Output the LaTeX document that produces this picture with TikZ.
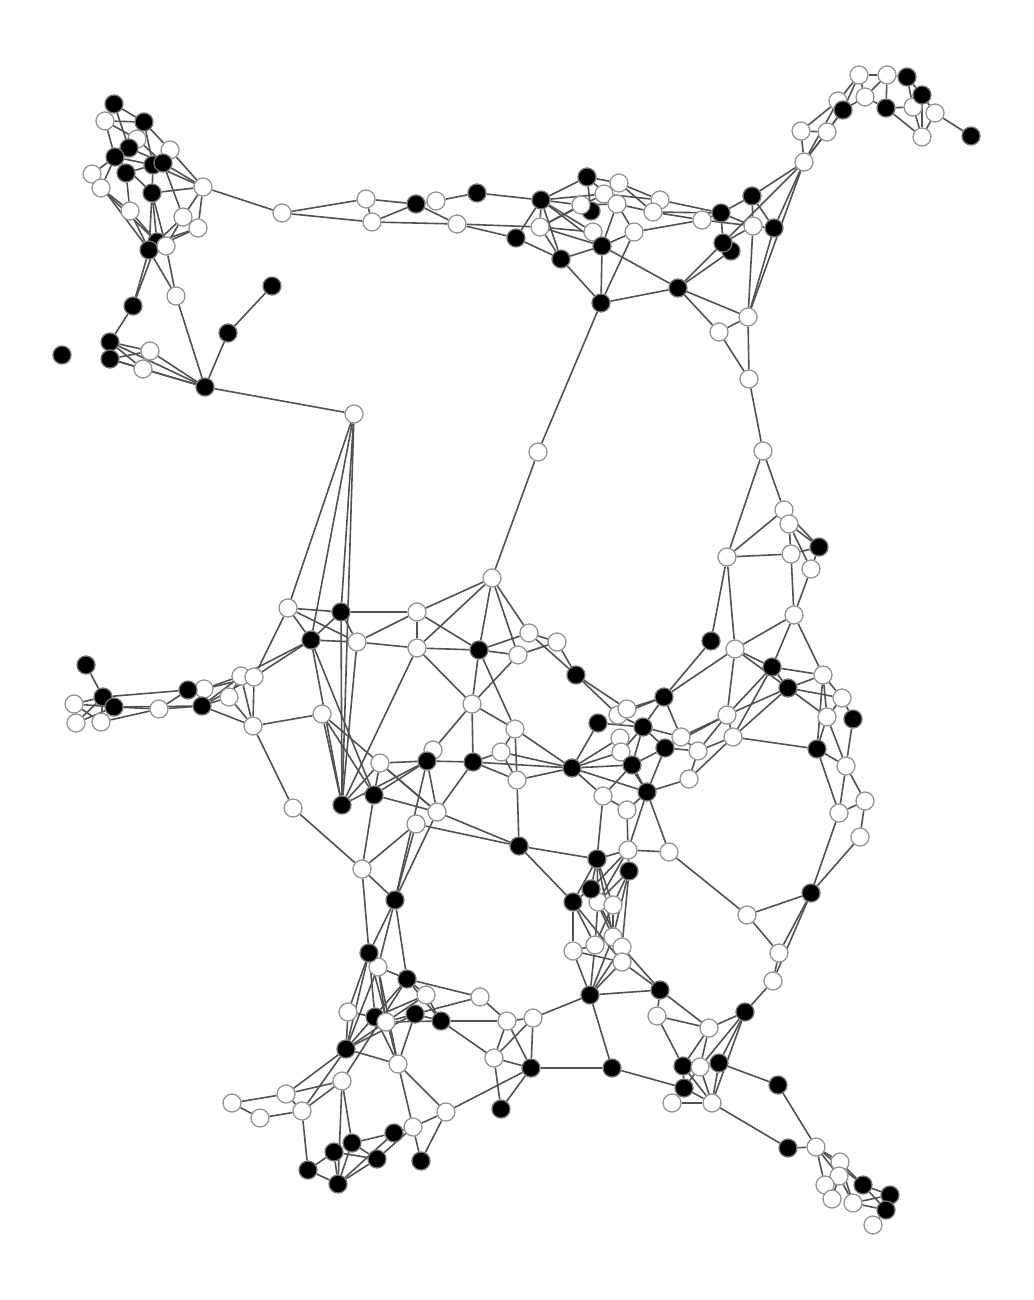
\documentclass[tikz,border=0pt]{standalone}
\pgfdeclarelayer{bg}
\pgfsetlayers{bg,main}
\begin{document}
\begin{tikzpicture}[x=1pt,y=-1pt,
  wn/.style={circle,fill=white,draw=black!42,line width=1.3pt,minimum size=18pt,inner sep=0pt},
  bn/.style={circle,fill=black,draw=black!55,line width=1.3pt,minimum size=18pt,inner sep=0pt},
  ed/.style={draw=black!68,line width=1.6pt}]
\useasboundingbox (0,0) rectangle (1033,1300);
% white nodes
\foreach \x/\y in {105/121, 137/139, 170/150, 92/174, 101/188, 203/187, 130/211, 183/217, 198/228, 176/296, 150/351, 143/369,
282/213, 366/199, 372/222, 436/201, 457/224, 540/227, 604/194, 619/183, 617/204, 593/232, 634/232, 660/200, 653/212, 702/220, 753/226, 748/317, 719/332, 749/379, 763/451,
859/75, 887/75, 838/101, 865/97, 913/107, 935/113, 922/137, 801/131, 827/132, 804/162,
354/414, 538/452, 492/578,
784/510, 789/524, 727/557, 791/554, 811/569, 794/615, 735/649, 823/675, 842/698, 827/717, 846/766, 865/801, 839/813, 860/837, 727/715, 733/737, 747/915, 779/953, 773/981,
288/608, 417/612, 357/642, 417/648, 529/633, 518/655, 557/642, 322/714, 472/704, 515/729, 433/750, 380/763, 501/752, 517/780, 293/808, 437/812, 416/824, 362/869,
620/738, 621/752, 681/737, 698/751, 689/779, 603/796, 627/810, 628/850, 669/852,
598/902, 613/905, 613/937, 595/945, 622/947, 573/951, 622/962,
74/704, 76/723, 101/722, 159/709, 204/689, 229/697, 241/676, 254/677, 253/726,
378/967, 426/995, 480/997, 348/1012, 507/1021, 533/1018, 398/1064, 494/1058, 342/1081, 286/1094, 232/1103, 260/1118, 302/1111, 446/1112, 413/1127,
657/1016, 709/1028, 672/1103, 712/1103, 816/1147, 840/1162, 839/1176, 825/1185, 832/1199, 853/1203, 873/1225}
  \node[wn] (n\x x\y) at (\x,\y) {};
% black nodes
\foreach \x/\y in {114/104, 144/122, 129/148, 115/157, 153/165, 163/163, 126/173, 152/193, 157/242, 149/250, 133/306, 110/342, 110/359, 62/355, 205/387, 228/333, 272/286,
416/204, 477/193, 541/200, 587/177, 591/211, 516/238, 561/259, 602/246, 601/303, 678/288, 721/213, 752/196, 774/228, 731/251, 723/243,
907/77, 843/110, 886/108, 922/95, 971/136,
819/547, 711/641, 772/667, 788/688, 853/719, 817/749, 811/893,
341/612, 311/640, 479/650, 576/675, 427/761, 473/762, 572/768, 342/805, 374/795, 519/846, 395/900,
664/697, 598/723, 643/727, 665/748, 632/765, 647/792, 597/859, 629/871, 591/889, 573/902, 590/995, 660/990,
86/665, 103/697, 114/707, 188/690, 202/706,
369/953, 407/979, 375/1017, 415/1014, 441/1021, 346/1049, 531/1068, 501/1109, 394/1133, 352/1143, 334/1152, 377/1159, 421/1161, 308/1170, 338/1184, 612/1068,
745/1012, 683/1066, 719/1063, 684/1088, 778/1085, 788/1148, 863/1185, 890/1195, 886/1210}
  \node[bn] (n\x x\y) at (\x,\y) {};
% whites lying on top of blacks
\foreach \x/\y in {166/246, 581/205, 618/715, 627/709, 386/1022, 700/1067}
  \node[wn] (n\x x\y) at (\x,\y) {};
\begin{pgfonlayer}{bg}
\foreach \a/\b/\c/\d in {
114/104/105/121, 114/104/144/122, 114/104/129/148, 105/121/144/122, 105/121/115/157, 105/121/137/139,
144/122/170/150, 144/122/129/148, 144/122/153/165, 137/139/163/163, 129/148/115/157, 129/148/163/163,
115/157/92/174, 115/157/101/188, 115/157/153/165, 115/157/152/193, 126/173/153/165, 126/173/130/211,
92/174/101/188, 101/188/130/211, 101/188/157/242, 92/174/149/250, 130/211/157/242, 130/211/149/250,
152/193/203/187, 152/193/157/242, 152/193/149/250, 152/193/166/246, 152/193/153/165, 170/150/203/187,
163/163/203/187, 153/165/203/187, 203/187/198/228, 203/187/183/217, 163/163/183/217, 183/217/157/242,
198/228/157/242, 198/228/149/250, 183/217/166/246, 170/150/153/165, 203/187/282/213,
176/296/205/387, 176/296/149/250, 176/296/166/246, 133/306/149/250, 133/306/157/242, 133/306/110/342,
110/342/150/351, 110/342/143/369, 110/342/205/387, 110/359/150/351, 110/359/143/369, 110/359/205/387,
150/351/205/387, 143/369/205/387, 205/387/228/333, 228/333/272/286, 205/387/354/414,
282/213/366/199, 282/213/372/222, 366/199/416/204, 366/199/372/222, 372/222/416/204, 372/222/457/224,
416/204/436/201, 416/204/457/224, 436/201/477/193, 477/193/541/200, 457/224/540/227, 457/224/516/238,
541/200/587/177, 541/200/581/205, 541/200/604/194, 541/200/593/232, 541/200/602/246, 541/200/540/227,
541/200/516/238, 541/200/561/259, 587/177/619/183, 587/177/591/211, 587/177/617/204,
540/227/581/205, 540/227/604/194, 540/227/593/232, 540/227/561/259, 540/227/602/246, 516/238/561/259,
561/259/602/246, 561/259/601/303, 602/246/617/204, 602/246/634/232, 602/246/601/303, 602/246/678/288,
602/246/593/232, 619/183/660/200, 619/183/653/212, 617/204/653/212, 617/204/634/232, 604/194/660/200,
581/205/617/204, 653/212/721/213, 653/212/702/220, 660/200/721/213, 634/232/702/220, 634/232/601/303,
601/303/678/288, 678/288/723/243, 678/288/731/251, 702/220/721/213, 702/220/753/226, 721/213/752/196,
721/213/753/226, 721/213/723/243, 752/196/753/226, 752/196/774/228, 752/196/804/162, 753/226/774/228,
753/226/723/243, 774/228/804/162, 774/228/748/317, 723/243/804/162, 753/226/748/317, 678/288/748/317,
678/288/719/332, 748/317/719/332, 748/317/804/162, 748/317/749/379, 719/332/749/379, 749/379/763/451,
601/303/538/452, 538/452/492/578,
859/75/887/75, 859/75/865/97, 859/75/838/101, 859/75/843/110, 887/75/907/77, 887/75/886/108,
887/75/865/97, 907/77/922/95, 907/77/913/107, 865/97/886/108, 865/97/843/110, 886/108/913/107,
886/108/922/137, 922/95/913/107, 922/95/935/113, 922/95/922/137, 913/107/922/137, 935/113/922/137,
935/113/971/136, 838/101/843/110, 838/101/801/131, 843/110/827/132, 843/110/804/162, 838/101/804/162,
801/131/827/132, 801/131/804/162, 827/132/804/162,
763/451/727/557, 763/451/784/510, 784/510/727/557, 784/510/819/547, 789/524/819/547, 789/524/791/554,
789/524/811/569, 727/557/791/554, 727/557/711/641, 727/557/735/649, 791/554/819/547, 791/554/794/615,
819/547/811/569, 811/569/794/615, 794/615/735/649, 794/615/772/667, 794/615/823/675, 711/641/664/697,
735/649/772/667, 735/649/788/688, 735/649/664/697, 735/649/727/715, 772/667/823/675, 772/667/788/688,
772/667/727/715, 772/667/733/737, 788/688/823/675, 788/688/842/698, 788/688/827/717, 788/688/727/715,
788/688/733/737, 823/675/842/698, 823/675/827/717, 823/675/817/749, 842/698/853/719, 842/698/827/717,
853/719/846/766, 827/717/817/749, 827/717/846/766, 817/749/733/737, 817/749/846/766, 817/749/839/813,
846/766/865/801, 846/766/839/813, 865/801/839/813, 865/801/860/837, 839/813/811/893, 860/837/811/893,
354/414/288/608, 354/414/311/640, 354/414/341/612, 354/414/342/805, 288/608/341/612, 288/608/357/642,
288/608/311/640, 288/608/254/677, 311/640/241/676, 311/640/254/677,
341/612/417/612, 341/612/357/642, 341/612/342/805, 341/612/311/640, 311/640/357/642, 311/640/342/805,
311/640/374/795, 357/642/417/612, 357/642/417/648, 357/642/342/805, 417/612/417/648, 417/612/492/578,
417/612/479/650, 417/648/492/578, 417/648/479/650, 417/648/472/704, 417/648/342/805, 492/578/479/650,
492/578/529/633, 492/578/518/655, 479/650/529/633, 479/650/518/655, 479/650/472/704, 479/650/515/729,
529/633/557/642, 529/633/576/675, 518/655/557/642, 518/655/472/704, 557/642/576/675, 472/704/515/729,
472/704/473/762, 472/704/433/750, 515/729/501/752, 515/729/572/768, 515/729/517/780, 322/714/253/726,
322/714/342/805, 322/714/374/795, 322/714/437/812, 380/763/427/761, 380/763/342/805, 380/763/374/795,
380/763/437/812, 427/761/473/762, 427/761/342/805, 427/761/374/795, 427/761/437/812, 427/761/395/900,
427/761/433/750, 473/762/437/812, 473/762/517/780, 473/762/501/752, 473/762/572/768, 501/752/517/780,
501/752/572/768, 517/780/572/768, 517/780/519/846, 374/795/437/812, 374/795/362/869, 416/824/519/846,
437/812/519/846, 416/824/362/869, 416/824/395/900, 437/812/395/900, 293/808/362/869, 293/808/253/726,
362/869/395/900, 362/869/369/953, 395/900/369/953, 395/900/378/967, 395/900/407/979, 519/846/597/859,
519/846/573/902,
576/675/618/715, 576/675/627/709, 664/697/618/715, 664/697/627/709, 664/697/643/727, 664/697/681/737,
727/715/681/737, 727/715/665/748, 727/715/698/751, 727/715/733/737, 733/737/698/751, 733/737/689/779,
598/723/572/768, 598/723/643/727, 643/727/618/715, 643/727/665/748, 643/727/621/752, 643/727/632/765,
681/737/665/748, 681/737/698/751, 681/737/643/727, 665/748/632/765, 665/748/647/792, 665/748/698/751,
689/779/647/792, 698/751/689/779, 572/768/620/738, 572/768/621/752, 572/768/632/765, 572/768/603/796,
572/768/647/792, 632/765/647/792, 632/765/603/796, 632/765/620/738, 647/792/627/810, 647/792/628/850,
647/792/669/852, 647/792/621/752, 603/796/597/859, 603/796/627/810, 627/810/628/850, 628/850/669/852,
597/859/628/850,
597/859/591/889, 597/859/573/902, 597/859/598/902, 597/859/613/905, 597/859/613/937, 628/850/629/871,
628/850/598/902, 628/850/591/889, 669/852/747/915, 629/871/613/905, 629/871/622/947, 629/871/613/937,
629/871/598/902, 591/889/613/937, 591/889/573/902, 573/902/573/951, 573/902/622/962, 573/902/595/945,
598/902/622/947, 598/902/595/945, 613/905/613/937, 613/905/595/945, 613/937/595/945, 613/937/622/947,
613/937/590/995, 573/951/622/962, 573/951/590/995, 573/951/595/945, 595/945/590/995, 622/962/590/995,
622/947/590/995, 622/962/660/990, 622/947/660/990, 590/995/660/990, 590/995/533/1018, 590/995/612/1068,
660/990/709/1028, 660/990/657/1016,
747/915/811/893, 747/915/779/953, 811/893/779/953, 811/893/773/981, 779/953/773/981, 773/981/745/1012,
657/1016/709/1028, 657/1016/683/1066, 709/1028/745/1012, 709/1028/683/1066, 709/1028/700/1067,
745/1012/719/1063, 745/1012/700/1067, 745/1012/712/1103, 683/1066/700/1067, 683/1066/684/1088,
683/1066/712/1103, 700/1067/684/1088, 700/1067/712/1103, 719/1063/712/1103, 719/1063/700/1067,
719/1063/778/1085, 684/1088/672/1103, 684/1088/712/1103, 672/1103/712/1103, 612/1068/684/1088,
612/1068/531/1068, 712/1103/788/1148, 778/1085/816/1147, 788/1148/816/1147, 816/1147/840/1162,
816/1147/825/1185, 816/1147/863/1185, 816/1147/839/1176, 840/1162/863/1185, 839/1176/853/1203,
825/1185/832/1199, 863/1185/890/1195, 863/1185/886/1210, 853/1203/886/1210, 853/1203/890/1195,
886/1210/873/1225, 839/1176/832/1199, 840/1162/853/1203,
369/953/378/967, 369/953/348/1012, 369/953/346/1049, 369/953/375/1017, 369/953/398/1064,
378/967/407/979, 378/967/386/1022, 378/967/398/1064, 378/967/346/1049, 407/979/480/997,
407/979/426/995, 407/979/441/1021, 407/979/346/1049, 407/979/342/1081, 426/995/441/1021,
426/995/375/1017, 426/995/386/1022, 480/997/507/1021, 480/997/415/1014, 348/1012/375/1017,
348/1012/346/1049, 375/1017/386/1022, 375/1017/398/1064, 386/1022/415/1014, 386/1022/441/1021,
386/1022/346/1049, 415/1014/441/1021, 415/1014/398/1064, 415/1014/346/1049, 441/1021/507/1021,
441/1021/494/1058, 507/1021/533/1018, 507/1021/494/1058, 507/1021/531/1068, 533/1018/494/1058,
533/1018/531/1068, 494/1058/531/1068, 494/1058/501/1109, 531/1068/501/1109, 531/1068/446/1112,
346/1049/398/1064, 346/1049/286/1094, 346/1049/302/1111, 342/1081/286/1094, 342/1081/302/1111,
342/1081/352/1143, 342/1081/338/1184, 398/1064/446/1112, 398/1064/413/1127, 232/1103/286/1094,
232/1103/260/1118, 286/1094/302/1111, 260/1118/302/1111, 302/1111/308/1170, 446/1112/413/1127,
446/1112/421/1161, 413/1127/394/1133, 413/1127/421/1161, 413/1127/377/1159, 394/1133/352/1143,
394/1133/338/1184, 352/1143/377/1159, 352/1143/338/1184, 334/1152/308/1170, 334/1152/377/1159,
334/1152/338/1184, 308/1170/338/1184, 338/1184/377/1159,
86/665/103/697, 103/697/74/704, 103/697/76/723, 103/697/101/722, 103/697/188/690, 103/697/114/707,
114/707/74/704, 114/707/76/723, 114/707/159/709, 114/707/202/706, 74/704/101/722, 101/722/159/709,
159/709/202/706, 159/709/188/690, 188/690/204/689, 202/706/241/676, 202/706/253/726, 202/706/229/697,
202/706/254/677, 204/689/241/676, 204/689/254/677, 229/697/241/676, 229/697/253/726, 241/676/253/726,
254/677/253/726}
  \draw[ed] (n\a x\b) -- (n\c x\d);
\end{pgfonlayer}
\end{tikzpicture}
\end{document}
